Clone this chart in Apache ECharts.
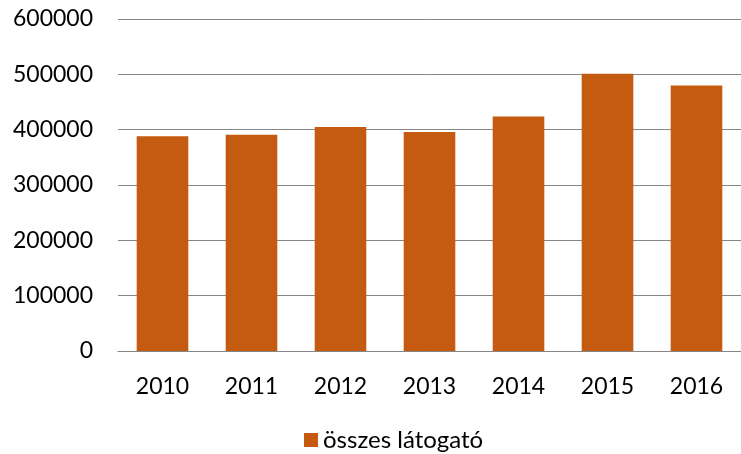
<!DOCTYPE html>
<html>
<head>
<meta charset="utf-8">
<script src="https://cdn.jsdelivr.net/npm/echarts@6/dist/echarts.min.js"></script>
<style>
	html, body { margin: 0; padding: 0; background: #fff; }
	#chart { width: 741px; height: 454px; }
</style>
</head>
<body>
<div id="chart"></div>
<script>
	var years = ['2010', '2011', '2012', '2013', '2014', '2015', '2016'];
	var visitors = [388000, 391000, 405000, 396000, 424000, 501000, 480000];
	var seriesName = 'összes látogató';

	var myChart = echarts.init(document.getElementById('chart'));
	var font = 'Lato, "Open Sans", sans-serif';
	myChart.setOption({
		animation: false,
		textStyle: { fontFamily: font },
		grid: { left: 118, right: 0, top: 19, bottom: 103 },
		legend: {
			data: [seriesName],
			left: 299,
			top: 423,
			itemWidth: 14,
			itemHeight: 14,
			icon: 'rect',
			itemGap: 6,
			textStyle: { fontSize: 24, color: '#000', fontFamily: font }
		},
		xAxis: {
			type: 'category',
			data: years,
			axisTick: { show: false },
			axisLine: { lineStyle: { color: '#868686', width: 1 } },
			axisLabel: { color: '#000', fontSize: 23, margin: 24 }
		},
		yAxis: {
			type: 'value',
			min: 0,
			max: 600000,
			interval: 100000,
			axisLine: { show: false },
			axisTick: { show: false },
			splitLine: { lineStyle: { color: '#868686', width: 1 } },
			axisLabel: {
				color: '#000',
				fontSize: 23,
				margin: 25,
				formatter: function(v) { return String(v); }
			}
		},
		series: [{
			name: seriesName,
			type: 'bar',
			data: visitors,
			barWidth: '58%',
			itemStyle: { color: '#C55A11' }
		}]
	});
</script>
</body>
</html>
